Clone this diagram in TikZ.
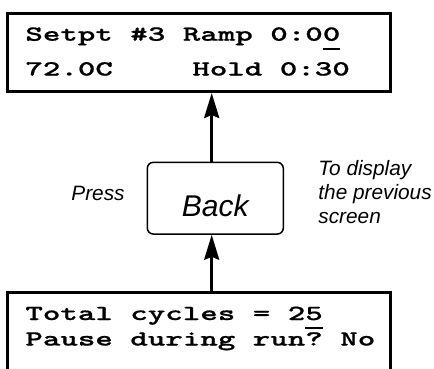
\documentclass[tikz,border=0pt]{standalone}
\usepackage{fontspec}
\usetikzlibrary{arrows.meta}
\newfontfamily\lcdfont{lmmonolt10-bold.otf}[FakeStretch=1.55, FakeBold=0.8]
\newfontfamily\notefont{Liberation Sans}
\newcommand\cursorat[1]{\makebox[0pt][l]{\rule[-9pt]{17.5pt}{2.2pt}}#1}
\begin{document}
\begin{tikzpicture}[x=1pt, y=1pt, thick,
    screen node/.style={draw, line width=3pt, minimum width=383pt, inner sep=0pt},
    key node/.style={draw, line width=1.5pt, rounded corners=6pt, minimum width=136pt,
      minimum height=71.7pt, text height=37pt, text depth=0pt, inner sep=0pt,
      font=\notefont\itshape\fontsize{30}{36}\selectfont},
    lcd text/.style={anchor=base west, inner sep=0pt, font=\lcdfont\frenchspacing\fontsize{21.5}{26}\selectfont},
    note text/.style={inner sep=0pt, align=left, font=\notefont\itshape\fontsize{20.8}{23.7}\selectfont},
    flow/.style={line width=3pt, -{Stealth[length=25pt, width=15pt, inset=3pt]}}]

  \clip (0,0) rectangle (434,368);

  \node[screen node, minimum height=78pt] (1) at (198.75,315.5) {};
  \node[key node] (2) at (215.3,169.8) {Back};
  \node[screen node, minimum height=95.5pt] (3) at (198.75,27.75) {};
  \coordinate (axis) at (211.7,0);

  \node[lcd text] (1a) at (25,327.3) {Setpt \#3 Ramp 0:0\cursorat{0}};
  \node[lcd text] (1b) at (25,292.5) {72.0C\hspace{79.5pt}Hold 0:30};
  \node[lcd text] (3a) at (25,48) {Total cycles = 2\cursorat{5}};
  \node[lcd text] (3b) at (25,22.5) {Pause during run? No};

  % multi-line node: base is the last line
  \node[note text, anchor=base west] (press) at (71,168) {Press};
  \node[note text, anchor=base west] (why) at (318,145) {To display\\the previous\\screen};

  \draw[flow] (3.north -| axis) -- (2.south -| axis);
  \draw[flow] (2.north -| axis) -- (1.south -| axis);
\end{tikzpicture}
\end{document}
